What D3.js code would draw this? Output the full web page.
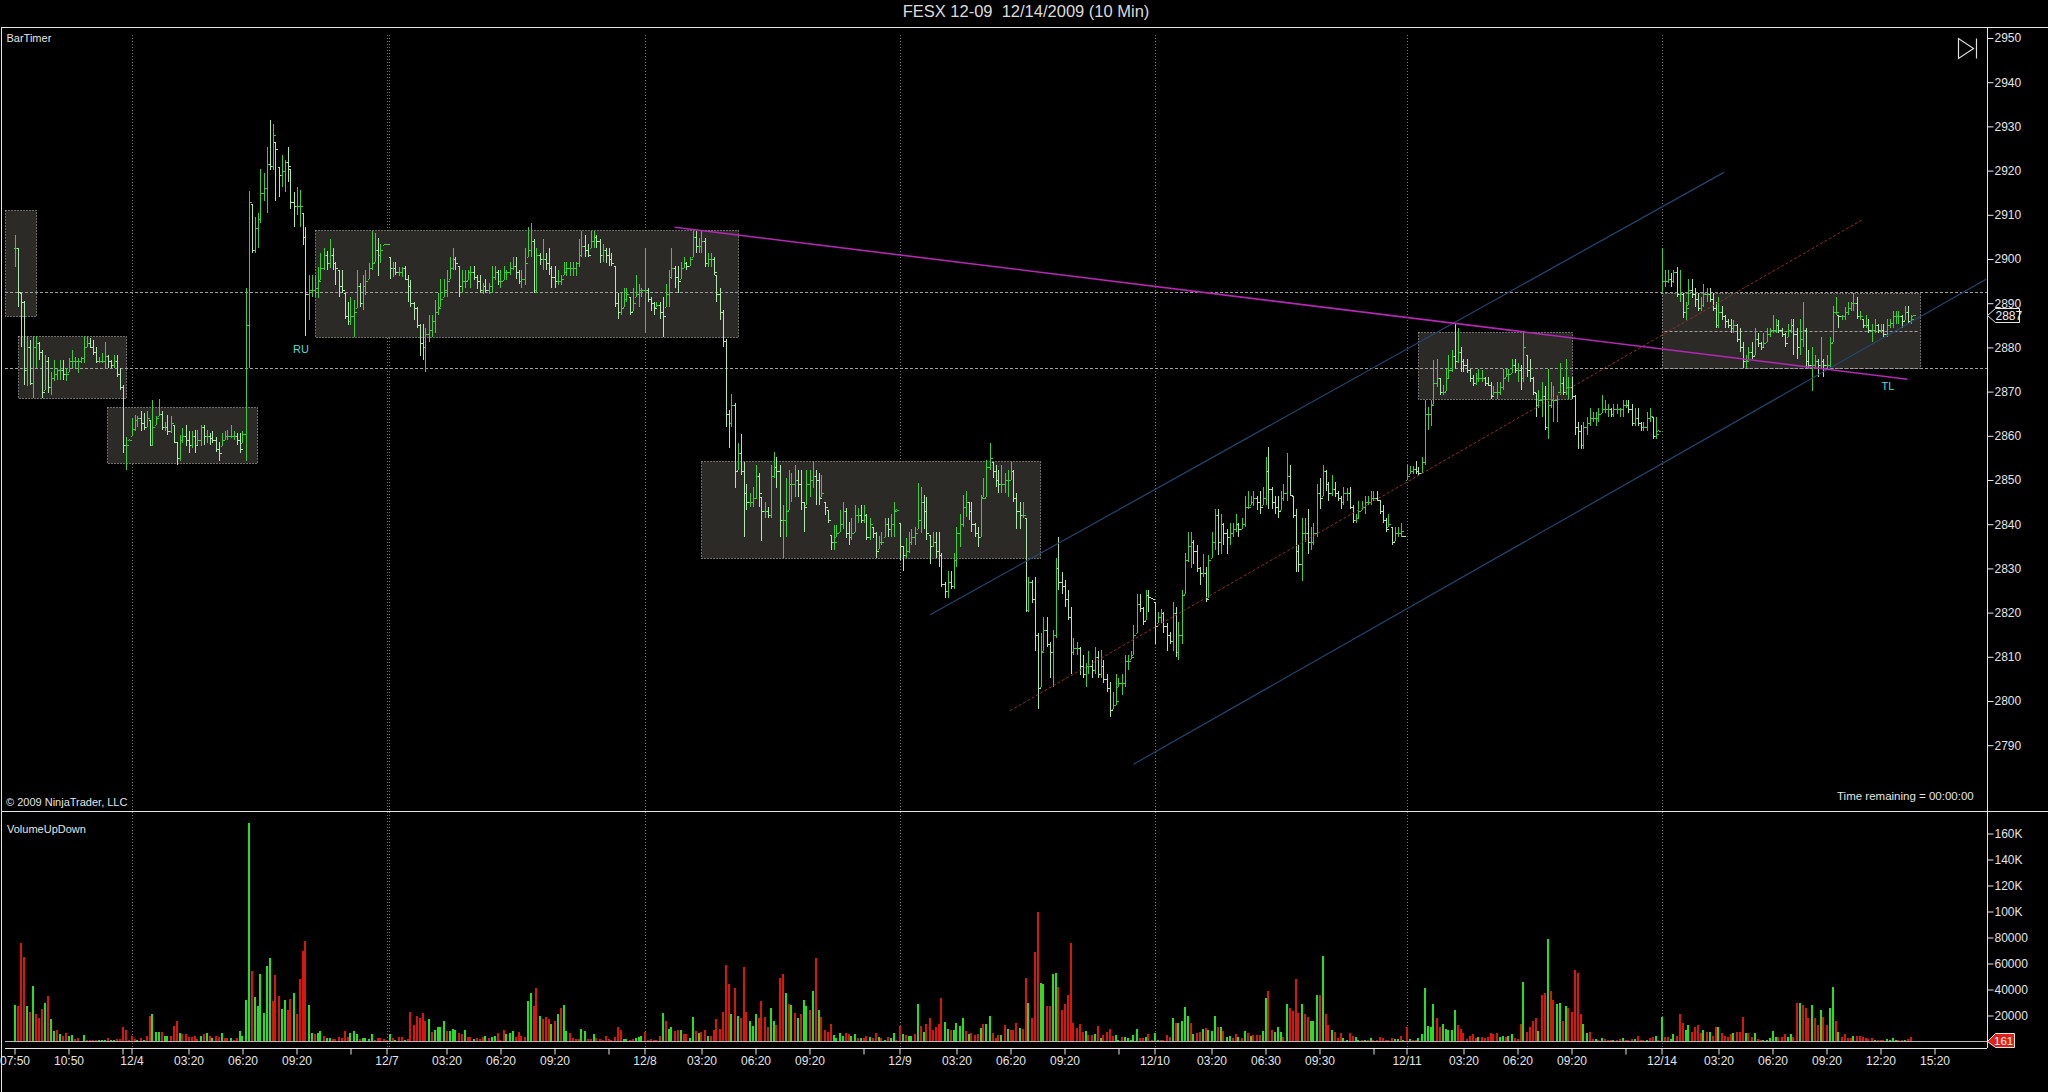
<!DOCTYPE html>
<html>

<head>
    <meta charset="utf-8">
    <style>
        html, body { margin: 0; padding: 0; background: #000; overflow: hidden; }
        svg { display: block; }
        text { font-family: "Liberation Sans", Arial, sans-serif; fill: #e4e4e4; }
        .axis path { stroke: #e8e8e8; }
        .axis line { stroke: #e8e8e8; }
        .axis text { font-size: 12px; fill: #e4e4e4; }
    </style>
</head>

<body>
    <svg id="container" width="2048" height="1092"></svg>
</body>
<script src="https://cdn.jsdelivr.net/npm/d3@7"></script>
<script>
    // one row per 10 minute bar: high, low, close
    const dec3 = [[2905.5,2898.3,2902.5],[2902.5,2889.2,2892.5],[2892.3,2880.2,2890.3],[2890.4,2871.5,2875],[2882.5,2871.2,2880],[2881.7,2871.5,2872],[2882.5,2868.5,2880],[2882.5,2875.3,2881],[2881.3,2877.2,2879],[2879.4,2868.5,2870],[2878.3,2870.4,2877],[2877.9,2869.6,2871],[2874.5,2869.3,2873],[2877.2,2872.3,2874],[2875.3,2872.7,2875],[2877.2,2872.7,2875],[2877.2,2872.7,2874],[2875.3,2872.3,2874],[2877.5,2874.5,2877],[2879.4,2875.3,2877],[2877.9,2875.3,2877],[2877.5,2874.2,2877],[2877.9,2876.4,2877.5],[2882.5,2876.4,2880],[2882.5,2880.2,2881],[2882.1,2879.8,2880],[2881.7,2878.3,2879],[2880.2,2876.4,2877],[2877.9,2876.4,2877],[2878.7,2876.4,2877],[2881.3,2875.3,2878],[2878.3,2875.3,2877],[2877.2,2875.3,2876],[2878.3,2875.3,2877],[2878.3,2873.4,2874],[2875.3,2870.4,2871],[2871.5,2856,2858],[2859.8,2852.3,2858],[2859.3,2859,2859.1]]
    const dec4 = [[2864,2860,2861.5],[2864.7,2861,2863.5],[2864.5,2862,2864],[2865.5,2861,2863],[2865.1,2861.3,2862],[2865.5,2862,2864],[2863.6,2857.6,2858],[2868.1,2857.6,2862],[2864.4,2862.5,2864],[2868.3,2864.4,2865],[2865.5,2861.3,2862],[2863.2,2861,2862],[2864.7,2860.2,2861],[2864.4,2860.6,2863],[2862.5,2858.3,2858.5],[2858.7,2853.4,2855],[2860.2,2854.2,2859],[2861.7,2858.3,2860],[2862.5,2857.6,2859],[2861,2856,2858],[2861,2857.2,2860],[2861.3,2856,2858],[2861.3,2858,2859],[2862.5,2857.6,2862],[2862.5,2858,2860],[2861.3,2858.3,2860],[2860.6,2858,2859.5],[2861,2858.3,2859],[2859.8,2856.4,2857],[2858.7,2854.2,2856],[2860.6,2857.6,2859],[2861,2859,2860],[2861.3,2859.1,2860],[2862.5,2859.5,2860],[2861,2859,2860],[2860.6,2858,2859],[2860.6,2856,2857],[2861,2858.3,2860.5],
        [2893.4,2854.2,2885],[2915.3,2875.3,2913],[2912.4,2901.3,2902],[2909.4,2901.3,2907],[2910.3,2902.4,2909],[2920.4,2908.2,2915],[2919.4,2913.2,2916],[2925.4,2910.3,2921.5],[2931.5,2920.1,2921],[2930.5,2920.1,2928],[2926.4,2913.2,2925],[2920.9,2914.1,2919],[2923.5,2916.4,2920],[2922.4,2915.2,2922],[2925.4,2917.5,2921],[2920.4,2911.2,2913],[2915.2,2907.3,2912],[2916.4,2910,2912],[2915.5,2907.3,2912],[2910.3,2903.2,2905],[2907.3,2882.5,2892],[2896.4,2886.2,2893],[2896.4,2891.5,2893],
        [2896.4,2891.3,2893.5],[2898.3,2891.1,2895],[2901.4,2895.2,2898],[2902.4,2897.4,2901],[2901.7,2897.4,2899],[2904.5,2897.9,2901],[2902.4,2897.5,2899],[2899.4,2894.1,2898],[2897.5,2891.3,2894],[2897.5,2892.2,2893],[2892.2,2886.4,2887],[2890.3,2885.1,2886],[2891.3,2885.1,2887],[2890.7,2882.3,2888],[2897.5,2889,2894],[2894.5,2889.2,2890],[2896.4,2888.5,2894],[2897.5,2891.9,2895],[2899,2895.4,2898],[2906.4,2897.5,2899],[2905.8,2899.4,2902],[2904.7,2896.2,2901],[2903.5,2899.2,2902],[2903.4,2903.2,2903.3]]
    const dec7 = [[2903.4,2903.2,2903.3],[2900.4,2895.4,2898],[2899.4,2896,2898],[2899.4,2896.4,2897],[2898.3,2896.2,2897],[2898.3,2896,2898],[2898.4,2895.2,2895.5],[2896.4,2890.3,2894],[2895.2,2889.2,2890],[2890.3,2886.2,2889],[2889.2,2884.3,2885],[2885.3,2878,2881],[2885.3,2877.1,2880],[2884.3,2874.4,2883],[2887.3,2881.3,2884],[2887.3,2882.3,2886],[2890.7,2883.2,2888],[2892.2,2887.3,2889],[2895.4,2889.2,2891],[2895.4,2891.3,2893],[2897.5,2891.5,2895],[2900.4,2895.4,2898],[2902.4,2897.5,2900],[2900.5,2897.4,2899],[2898.4,2891.3,2894],[2897.5,2892.2,2895],[2897.5,2893.4,2895],[2897.5,2895.2,2897],[2898.4,2893.4,2897],[2898.4,2895.2,2896],[2896.4,2893.1,2895],[2896.4,2892.2,2893],[2894.5,2892.1,2894],[2895.4,2892.2,2893],[2894.5,2892.1,2894],[2898.4,2892.2,2896],[2898.4,2895.2,2897],[2897.4,2894.1,2895],[2897.4,2893.4,2895],[2898.4,2895.2,2897],[2897.4,2895.2,2897],[2899.4,2896.4,2898],[2900.4,2897.4,2898.5],[2900.4,2895.4,2897],[2897.4,2894.3,2895],[2897.5,2893.4,2895.5],[2902.4,2894.1,2899],[2907.3,2900.4,2902],[2908.2,2900.4,2904],[2904.5,2892.2,2893],[2902.4,2892.2,2901],[2901.4,2898.6,2900],[2904.5,2897.5,2900],[2901.3,2897.4,2899],[2902.4,2896.4,2898],[2898.4,2893.4,2896],[2898.4,2893.4,2895],[2897.4,2894.1,2895],[2896.4,2894.1,2895.5],[2899.4,2896.4,2897],[2899.4,2896.2,2898],[2899.4,2896.2,2898],[2899.4,2896.2,2898],[2899.4,2896.2,2899],[2904.5,2898.3,2901],[2906.4,2900.4,2903],[2905.4,2900.4,2902],[2903.5,2900.4,2901],[2906.4,2902.4,2904],[2906.4,2902.4,2905],[2905.4,2902.4,2904],[2904.5,2899.2,2901],[2903.5,2899.4,2902],[2902.4,2899.2,2901],[2902.4,2898.4,2900],[2901.4,2898.4,2899],[2898.4,2889.2,2890],[2892.2,2886.4,2888],[2892.2,2887.3,2889],[2893.4,2889.2,2891],[2893.4,2890.3,2892],[2891.3,2887.3,2888],[2893.4,2888.3,2890],[2896.4,2891.3,2892],[2894.3,2889.2,2893],[2893.4,2891.3,2893]]
    const dec8 = [[2902.4,2883.2,2893],[2893.4,2890.3,2891],[2891.3,2888.3,2890],[2890.3,2887.3,2889],[2890.3,2889.2,2889.5],[2890.3,2886.4,2888],[2891.3,2882.4,2887],[2894.3,2889.2,2892],[2897.5,2889.2,2896],[2902.4,2895.4,2898],[2898.4,2893.4,2896],[2898.4,2892.2,2895],[2899.4,2895.4,2898],[2900.4,2897.9,2899],[2899.4,2897.5,2898.5],[2900.4,2898.4,2900],[2906.4,2900.4,2905],[2906.4,2901.4,2903],[2904.7,2901.3,2903],[2906.4,2901.3,2904],[2904.7,2898.3,2899],[2901.3,2898.3,2900],[2901.3,2898.3,2900],[2900.5,2896.4,2897],[2896.4,2890.3,2892],[2893.4,2886.2,2888],[2888.5,2880.2,2881.5],[2882,2862,2865],[2865.8,2857.2,2863],[2869.4,2862,2867],[2867.5,2848.1,2852],[2858.3,2852.3,2856],[2860.4,2851.1,2852],[2854.1,2837.2,2847],[2849.2,2843.2,2845],[2847,2844,2845],[2848.5,2844,2846],[2853.4,2845.8,2851],[2851.5,2844,2847],[2846.2,2836.3,2843],[2845.1,2841.3,2843],[2844,2841.3,2842],[2853.4,2841.3,2851],[2856.4,2850.4,2853],[2855.3,2848.1,2852],[2853.4,2837.2,2841],[2844.3,2832.3,2841],[2850.4,2837.2,2843],[2852.3,2843.2,2849],[2851.5,2845.1,2849],[2853.4,2846.2,2850],[2852.3,2846.2,2849],[2852.3,2843.2,2845],[2845.1,2838.3,2844],[2852.3,2844.3,2849],[2852.3,2846.2,2850],[2854.4,2848.1,2851],[2852.3,2844.3,2850],[2851.5,2844.3,2846],[2851.1,2846.2,2847],[2845.1,2842.1,2844],[2843.2,2840.2,2841],[2837.5,2834.2,2836],[2839.8,2834.2,2836],[2839.8,2837.2,2838],[2843.2,2838.3,2840],[2845.1,2839,2843],[2843.6,2836.8,2838],[2840.6,2835.3,2837],[2841.3,2836.4,2838],[2844.3,2838.3,2842],[2843.6,2840.2,2842],[2844.3,2840.2,2841],[2844.3,2840.2,2842],[2842.4,2836.4,2837],[2841.3,2836.4,2840],[2839.4,2836.8,2838],[2838.3,2832.3,2834],[2837.3,2834.5,2836],[2838.3,2835.3,2836],[2841.3,2837.2,2840],[2841.3,2837.2,2839],[2842.4,2837.2,2840],[2845.1,2837.2,2843],[2843.4,2843.2,2843.3]]
    const dec9 = [[2840.2,2831.9,2835],[2835,2829.3,2833],[2836.8,2832.3,2834],[2838.3,2833.4,2836],[2839,2835.3,2837],[2839.4,2835.3,2838],[2849.4,2839,2841],[2848.5,2837.9,2845],[2846.6,2839,2843],[2846.2,2836.4,2838],[2837.5,2831.1,2835],[2838.3,2834.9,2836],[2838.3,2832.3,2834],[2838.3,2830.4,2833],[2833.4,2825.8,2826.5],[2827,2823.2,2825],[2829.3,2823.2,2827],[2829.3,2825.3,2826],[2833.4,2825.3,2832],[2839.4,2830.4,2838],[2842.4,2834.9,2840],[2846.6,2839.4,2844],[2847.4,2841.7,2845],[2845.1,2841,2843],[2845.1,2838.3,2840],[2840.2,2837.2,2838],[2839.4,2834.9,2837],[2846.6,2837.2,2846],[2850.4,2846.2,2846],[2854.5,2846.2,2853],[2858.3,2852.3,2855],[2854.1,2850.4,2852],[2853.4,2848.5,2850],[2852.3,2847,2849],[2853.4,2847,2849],[2851.5,2847,2850],[2852.3,2846.2,2850],[2854.1,2850,2852],[2852.3,2845.1,2846],[2847,2839,2843],[2845.1,2839,2842],[2845.1,2841.3,2842],[2841.3,2820.2,2820.6],
        [2828.1,2820.2,2827],[2827.4,2822.1,2823],[2828.1,2811.2,2815],[2815.3,2798.3,2803],[2815.3,2803.2,2811],[2819.1,2811.2,2816],[2819.1,2812.3,2813],[2813.4,2805.1,2811],[2816,2803.2,2815],[2832.3,2814.2,2830],[2837.2,2825.1,2827],[2829.2,2824.3,2826],[2827.4,2821.3,2823],[2825.1,2818.3,2819],[2821.3,2806.2,2811],[2814.2,2810.4,2812],[2813.4,2810.4,2812],[2812.3,2805.9,2808],[2810.4,2805.1,2806],[2808.5,2803.2,2808],[2811.2,2806.2,2808],[2809.3,2805.1,2807],[2812.3,2806.2,2810],[2811.2,2805.1,2806],[2811.5,2805.1,2808],[2809.3,2804,2805],[2806.2,2802.1,2803],[2804.4,2796.3,2798],[2802.1,2798.3,2799],[2806.2,2799.1,2800],[2805.1,2803.2,2804],[2806.2,2801.3,2804],[2810.4,2803.2,2809],[2810.4,2807,2809],[2811.2,2809.6,2810],[2817.2,2810.4,2815],[2824.3,2815.3,2822],[2824.3,2820.2,2821],[2821.3,2817.2,2818],[2825.1,2818.3,2824],[2825.1,2820.2,2823.5],[2823.2,2823,2823.1]]
    const dec10 = [[2822.5,2813,2817],[2820.2,2817.6,2819],[2820.9,2817.6,2820],[2820.2,2815.3,2817],[2817.6,2811.2,2815],[2815.7,2813,2813.5],[2822.5,2811.2,2820],[2821.3,2810,2811],[2817.9,2809.3,2815],[2825.1,2813,2824],[2833.4,2824.3,2832],[2838.3,2831.5,2835],[2838.3,2830.2,2836],[2836.4,2831.1,2834],[2835.3,2829.2,2830],[2830.4,2826.2,2829],[2833.2,2828.1,2829],[2830.4,2822.5,2823],[2833,2823.2,2832],[2838.3,2832.3,2836],[2843.4,2834.1,2842],[2843.4,2833,2836],[2842.3,2833.2,2840],[2840.2,2835.3,2838],[2839,2833.2,2837],[2840.2,2835.3,2838],[2840.2,2837.2,2839],[2842.3,2838.3,2840],[2840.2,2837.2,2839],[2841.3,2839,2840],[2846.4,2839.3,2844],[2847.4,2843.4,2844],[2846.4,2844.3,2845],[2847.4,2844.1,2846],[2846.4,2843.2,2845],[2847.4,2842.3,2844],[2848.5,2844.3,2846],[2855.3,2844.3,2852],[2857.4,2843.4,2848],[2848.5,2843.4,2845],[2846.4,2842.3,2844],[2846.4,2841.3,2843],[2847.4,2843.2,2846],[2849.2,2845.3,2847],[2856.2,2845.3,2851],[2853.4,2846.4,2846.5],[2846.4,2841.3,2842],[2843.4,2829.2,2834],[2835.3,2829.2,2831],[2841.3,2827.2,2838],[2841.3,2836,2838],[2843.4,2833.2,2836],[2839.3,2834.1,2836],[2840.2,2835.3,2838],[2849.2,2837.2,2847],[2850.4,2843.4,2846],[2853.4,2846.4,2852],[2852.3,2847.4,2849],[2849.6,2845.3,2847],[2851.1,2846.4,2848],[2849.6,2846.2,2847],[2847.4,2845.3,2846],[2846.4,2843.4,2845],[2848.5,2844.3,2847],[2848.3,2845.3,2847],[2848.5,2843.4,2844],[2844.3,2840.2,2841],[2842.4,2840.2,2841.5],[2845.3,2841.3,2843],[2845.3,2843.2,2844],[2846.4,2842.3,2845],[2846.4,2844.3,2845],[2847.4,2844.3,2846],[2847.4,2845.3,2846],[2847.4,2845.3,2845.5],[2845.5,2842.3,2843],[2844.3,2840.2,2841],[2841.3,2838.3,2839],[2842.3,2839.3,2840],[2839.3,2835.3,2836],[2839.3,2836.3,2838],[2839.3,2837.2,2838],[2840.2,2837.2,2838.5],[2837.4,2837.2,2837.3]]
    const dec11 = [[2853.4,2850,2851],[2853.1,2851.3,2852],[2853.1,2851.3,2852.5],[2854.3,2851.3,2852],[2853,2851.1,2851.5],[2855.3,2851.5,2854],[2868.1,2853.4,2865],[2866.6,2861.3,2865],[2868.1,2862.2,2867],[2877.1,2867.3,2872],[2877.3,2871.1,2873],[2873,2869.2,2870],[2871.5,2869.2,2870],[2875.2,2870.2,2873],[2878.3,2873,2875],[2879.4,2874.5,2878],[2885.4,2875.2,2877],[2884.3,2876.4,2879],[2880.1,2874.5,2877],[2877.3,2874.5,2876],[2877.3,2874.3,2875],[2875.2,2872.2,2873],[2873.7,2871.2,2872],[2874.3,2871.5,2873],[2875.2,2872.2,2873],[2874.9,2872.2,2873],[2873.2,2871.2,2872],[2873.2,2871.2,2871.5],[2872.2,2868.3,2869],[2871.2,2869.2,2870],[2872.2,2868.3,2870],[2872.2,2869.2,2871],[2875.2,2870.3,2873],[2875.2,2873.2,2874],[2875.2,2872.2,2874],[2877.3,2874.3,2876],[2877.3,2874.3,2875],[2876.4,2872.2,2875],[2876,2870.3,2873],[2883.5,2872.2,2880],[2878.3,2873.2,2875],[2877.3,2872.2,2873],[2873.2,2869.2,2870],[2869.6,2864.3,2867],[2870.3,2866.4,2868],[2872.2,2864.3,2869],[2871.2,2861.3,2862],[2875.2,2859.2,2867],[2872.2,2866.2,2868],[2871.2,2863.2,2868],[2869.2,2863.2,2870],[2876.4,2869.2,2872],[2873.2,2869.2,2870],[2877.3,2869.2,2871],[2873.2,2868.3,2871],[2873.2,2868.3,2869],[2869.2,2860.2,2862],[2863.2,2857.1,2861],[2862.4,2857.1,2858],[2863.2,2857.1,2862],[2864.3,2860.2,2863],[2866.2,2862.2,2864],[2865.4,2863.2,2864],[2865.4,2862.2,2864],[2866.2,2863.2,2865],[2869.2,2865.2,2866],[2868.2,2865.2,2866],[2867.3,2864.3,2866],[2866.2,2864.3,2865],[2867.3,2864.3,2866],[2867.3,2865,2866],[2866.4,2864.3,2866],[2868.2,2864.3,2867],[2868.2,2866.2,2867],[2868.2,2865.2,2866],[2867.3,2862.2,2863],[2866.2,2862.2,2864],[2866.2,2862.2,2863],[2863.2,2861.1,2862],[2863.2,2861.1,2862],[2865.4,2861.1,2864],[2866.2,2863.2,2864.5],[2864.3,2859.2,2860],[2864.3,2859.2,2860.5],[2861.2,2861,2861.1]]
    const dec14 = [[2902.6,2892.4,2895],[2897.5,2893.7,2895],[2897.5,2894.5,2895.5],[2896.8,2893.7,2895],[2897.5,2894.5,2897],[2898.3,2891.3,2892],[2897.5,2890.3,2892],[2892.4,2886.6,2888],[2890.3,2886.2,2889],[2895.4,2889.6,2893],[2895.4,2891.1,2892],[2893.4,2889.2,2891],[2892.4,2888.3,2889],[2891.3,2888.3,2889.5],[2894.3,2889.2,2892],[2893.4,2890.3,2892],[2893.4,2890.3,2891],[2892.4,2888.3,2889],[2890.3,2884.3,2885],[2891.3,2884.3,2888],[2889.4,2886.2,2887],[2887.3,2884.3,2886],[2886.4,2884.3,2885],[2886.4,2883.3,2884.5],[2886.2,2883.2,2885],[2885.3,2881.3,2882],[2884.3,2879,2880],[2881.3,2875.3,2877],[2878.3,2875.3,2877],[2880.2,2877.2,2879],[2881.3,2877.3,2878],[2884.3,2878.3,2882],[2883.2,2880.2,2881],[2881.3,2879.3,2880],[2883.2,2880.2,2881],[2884.3,2881.3,2883],[2884.3,2882.3,2884],[2887.3,2883.3,2884],[2886.4,2883.3,2885],[2886.2,2883.2,2884],[2884.3,2882.3,2883],[2883.3,2880.2,2881],[2885.3,2882.3,2884],[2886.4,2883.3,2885],[2886.4,2878.3,2883],[2884.3,2877.3,2880],[2886.4,2878.3,2882],[2890.3,2880.2,2884],[2884.3,2875.3,2877],[2879.3,2875.3,2876],[2880.2,2870.2,2876],[2878.3,2875.3,2877],[2877.3,2873.2,2876],[2882.3,2875.3,2877],[2877.3,2873.2,2876],[2878.3,2875.3,2876],[2882.3,2875.3,2881],[2889.4,2881.3,2888],[2891.3,2887.3,2888],[2887.3,2884.3,2887],[2887.3,2886.2,2887],[2889.2,2886.2,2888],[2890.3,2887.3,2889],[2890.3,2888.3,2890],[2892.4,2888.3,2890],[2891.3,2886.4,2887],[2888.3,2886.2,2887],[2886.4,2884.3,2885],[2887.3,2884.3,2885],[2886.4,2883.3,2884],[2885.3,2881.3,2884],[2886.4,2883.3,2885],[2885.3,2883.3,2884],[2885.3,2883.3,2884],[2885.3,2882.3,2883],[2886.4,2882.3,2885],[2886.4,2884.3,2885.5],[2888.3,2884.3,2887],[2888.3,2885.3,2887],[2888.3,2885.3,2887],[2887.3,2884.3,2886],[2889.4,2886.2,2888],[2889.4,2885.3,2886],[2887.3,2885.3,2886.5],[2887.4,2887.2,2887.3]]

    // volume per bar in thousands, negative means a down bar
    const vol3 = [27.7,-27,-76,-65,27,-23,43,-21,-18,-25,29.5,-35,17,7.7,-9,6,-4.4,-6.7,4.6,5,-2.3,-3,-.5,5,-1.5,-1.5,-1,-1.5,1.3,.8,.8,-3,.8,.8,-2.3,-2.3,-10.8,-9.2,-.8]
    const vol4 = [-4.6,-2.3,1.5,-2.8,1.3,-4.4,-20,21.3,7,7,-7,4.4,4.4,-4.4,-12.3,-16,6.7,-5.6,-5.4,-3.8,-3.8,-4.6,-2.3,4.6,-5.4,6.2,-4.6,3,-4.6,-3.8,6.2,-2.8,-2.8,3,-1.5,-3,7.7,4.6,32,168,-54,34.6,27,52,22,58,64.6,-31,-51.5,-35,25,32,-24.6,-33,37,-21,-47.7,-70,-77,27.7,6.2,-5.4,6.2,7.7,-4.6,3,3,-2.3,-2.3,-3.6,-3,-7.7,-3.8,6.2,7.7,5.4,-2.3,3,3,2.3,5.4,-1.5,-3,-3,-2.3]
    const vol7 = [-1.5,5.4,-3,1.5,-3.8,-3.8,1.5,-2.3,-23,-13,-20,-17.7,-22.3,-15.4,17,-7,8.5,10.8,10.8,15.4,-7.7,7.7,10,8.5,-6.2,-5.4,8.5,-3.8,-3.8,2.3,-3,-2.3,-3.8,4.6,-3,3.8,4.6,-6.2,-1.5,-8.5,5.4,6.2,7.7,-3.8,-7,-4.6,-3.8,31.5,37,-27,-41.5,20,-17,-19.2,-17,13.8,-16,21.5,-26,27.7,7.7,-6.2,-3,-2.3,-2.3,10,7.7,-2.3,-2.3,5.4,-3,-2.3,-.8,-4.6,-2.3,-1.5,-3.8,-11.5,-8.5,2.3,2.3,-1.5,-2.3,3,3.8,4.6]
    const vol8 = [-7,-1.5,-2.3,-1.5,-1.5,-4.6,22.3,-15.4,10,11.5,-7.7,-9.2,8.5,-5.4,-5.4,3,18.5,-7.7,6.2,-7,-8.5,4.6,-4.6,-8.5,-17,-10,-23,-59,-44.6,21.5,-40.8,20,-17.7,-57,-23,16,12.3,20.8,-17.7,-30.8,-18.5,-11.5,25.4,15.4,-13,-49,-52,37,-28.5,27.7,-22.3,17.7,-21.5,32,27,-24.6,38.5,-64,24.6,-18.5,-8.5,-7,-13.3,4.9,2.6,6.4,4.1,-6.4,-5.6,4.1,5.6,-2.6,2.6,-2.6,-4.1,3.3,-2.6,-6.4,3.3,-2.6,1,-3.3,2.6,6.4,-.8]
    const vol9 = [-11.8,5.6,-4.9,4.1,4.1,-5.6,28.7,-11.8,7.2,-13.3,-18,-8.7,-11,-13.3,-33.8,14.9,9.5,-8.7,8.7,14,11.8,18,-8,5.6,-6.4,-4.9,-5.6,10.3,-13.3,13.3,20,-6.4,-2.6,-4.9,4.9,-12.6,9.5,-8.7,-8.7,-14,10.3,-9.5,-48.7,30,-18,-68.7,-99.5,44.9,44,-27,-27,51.8,53,-41.8,-24,-28.7,-35.6,-75.6,-14,-10.3,-13.3,-7.2,8,-4.9,-4.9,5.6,-11.8,2.6,-4.9,-7.2,-9.5,-4.1,4.9,1.5,-3.3,3.3,2.6,1.5,4.9,9.5,-2.6,-2.6,3.3,-5.6,-.8]
    const vol10 = [6.4,1,-1.5,-1.5,-4.9,-3.3,18,-14,14,15.6,26.4,19.5,-14,5.6,-6.4,-7.2,9.5,-10.3,8.7,8,20,-11,11,-8,3.3,4.1,-2.6,-5.6,3.3,-2.6,8,-6.4,4.1,-4.9,-4.9,-4.9,8,33.3,-38.7,-8.5,7,10.8,7,-3.8,28.5,-26,-23.8,-47.7,-22.3,28.5,-20.8,-19.2,16,15.4,36,-36,66,-20.8,-13,9.2,-7,-3,-6.2,3,1.5,-6.2,-4.6,3.8,1.5,-1.5,1.5,-.8,3,-.8,-.8,-3.8,-3,-1.5,-1.5,-3,2.3,2.3,-4.6,.8]
    const vol11 = [-10.8,2.3,-1.5,-.8,3,5.4,41.5,12.3,11.5,28.5,-17.7,-11.5,13.8,10,8.5,9.2,24.6,-13,-10,-6.2,-2.3,-4.6,-5.4,-3,3.8,-3.8,-3,-3.8,-6.2,-5.4,-6.2,3.8,4.6,-3.8,4.6,5.4,-3,-2.3,-13.8,45.4,-7,-10.8,-16,-17.7,7.7,-35.4,-37,79,-38.5,-32,29,30,-16,27,-26,-23,-55,-53,-20.8,13.8,6.2,-7,-2.3,2.3,-1.5,3,-2.3,-1.5,-.8,1.5,-1.5,-2.3,3,-1.5,-1.5,-2.3,2.3,-4.6,-1.5,-1.5,.8,-3,-3.8,4.6,-.8]
    const vol14 = [18.5,-3.8,-3.8,2,5.4,-4.6,-20.8,-14.6,9.2,13,-7,-11.5,-13,-6.2,8.5,-7,7,-4.6,-11.5,11.5,-6.2,-4.6,-3.8,-5.4,6.2,-7,-7,-19.2,6.2,-6.2,-3.8,6.2,-2.3,-1.5,.8,1.5,3,7.7,3.8,-3.8,-3.8,-5.4,3.8,5.4,-3.8,-30,30,-27.7,-25.4,-17.7,27.7,-17.7,-13,24.6,-18.5,-13,25.4,42.3,-16,7,-3.8,-5.4,-3,-3,4.6,-4.6,-4.6,-3.8,-3,-2.3,-3,1.5,-.8,-.8,-.8,2.3,1.5,3,.8,-.8,-1.5,1.5,-2.3,-3.8]

    // index of the bar under each tick of the time axis, "" means tick without label
    const timeTicks = [0,18,36,39,58,76,94,112,124,144,162,180,198,210,229,247,265,283,295,314,332,350,368,380,399,417,435,453,464,483,501,519,537,549,568,586,604,622,640]
    const timeLabels = ["07:50","10:50","","12/4","03:20","06:20","09:20","","12/7","03:20","06:20","09:20","","12/8","03:20","06:20","09:20","","12/9","03:20","06:20","09:20","","12/10","03:20","06:30","09:30","","12/11","03:20","06:20","09:20","","12/14","03:20","06:20","09:20","12:20","15:20"]
    const priceTicks = [2790,2800,2810,2820,2830,2840,2850,2860,2870,2880,2890,2900,2910,2920,2930,2940,2950]
    const volumeTicks = [20,40,60,80,100,120,140,160]
    const sessionStarts = [39,124,124.8,210,295,380,464,549]

    // congestion boxes: first bar, last bar, top price, bottom price
    const boxes = [[-3.2,7,2911,2887],[1,37.1,2882.6,2868.5],[30.9,81,2866.6,2854],[100,241,2906.6,2882.3],[229,342,2854.4,2832.4],[467.8,519,2883.5,2868.3],[549,635,2892.4,2875.4]]
    const levels = [2892.6,2875.3]
    const boxMedian = [[550,635,2883.8]]

    // drawn lines: start bar, start price, end bar, end price
    const resistance = [[220,2907.2,631,2872.8]]
    const channelMid = [[331.8,2797.8,616,2908.9]]
    const channelEdges = [[305.2,2819.5,569.8,2919.6],[373,2785.7,657.2,2895.4]]

    let svg = d3.select("#container")
    let bars = [].concat(dec3, dec4, dec7, dec8, dec9, dec10, dec11, dec14)
    let volumes = [].concat(vol3, vol4, vol7, vol8, vol9, vol10, vol11, vol14)

    let x = d3.scaleLinear().domain([0, 640]).range([14.5, 1934.5])
    let y = d3.scaleLinear().domain([2790, 2950]).range([745.2, 38])
    let yVol = d3.scaleLinear().domain([0, 160]).range([1041.5, 833.5])

    function drawFrame() {
        let frame = svg.append("g").attr("stroke", "#e6e6e6").attr("shape-rendering", "crispEdges")
        frame.append("line").attr("x1", 1).attr("x2", 2048).attr("y1", 27.5).attr("y2", 27.5)
        frame.append("line").attr("x1", 1).attr("x2", 2048).attr("y1", 811.5).attr("y2", 811.5)
        frame.append("line").attr("x1", 1.5).attr("x2", 1.5).attr("y1", 27).attr("y2", 1092)
        frame.append("line").attr("x1", 1987.5).attr("x2", 1987.5).attr("y1", 27).attr("y2", 1048)
        frame.append("line").attr("x1", 5).attr("x2", 1987).attr("y1", 1041.5).attr("y2", 1041.5).attr("stroke", "#b8b8b8")
    }

    function drawGrid() {
        svg.append("g")
            .selectAll("line")
            .data(sessionStarts)
            .enter()
            .append("line")
            .attr("x1", d => Math.round(x(d)) + 0.5)
            .attr("x2", d => Math.round(x(d)) + 0.5)
            .attr("y1", 35)
            .attr("y2", 1048)
            .attr("stroke", "#777")
            .attr("stroke-dasharray", "1,2")
    }

    function drawBoxes() {
        svg.append("g")
            .selectAll("rect")
            .data(boxes)
            .enter()
            .append("rect")
            .attr("x", d => Math.round(x(d[0])) + 0.5)
            .attr("y", d => Math.round(y(d[2])) + 0.5)
            .attr("width", d => Math.round(x(d[1]) - x(d[0])))
            .attr("height", d => Math.round(y(d[3]) - y(d[2])))
            .attr("fill", "#2b2a26")
            .attr("stroke", "#c8c8c8")
            .attr("stroke-dasharray", "1,2")

        svg.append("g")
            .selectAll("line")
            .data(levels)
            .enter()
            .append("line")
            .attr("x1", 5)
            .attr("x2", 1987)
            .attr("y1", d => Math.round(y(d)) + 0.5)
            .attr("y2", d => Math.round(y(d)) + 0.5)
            .attr("stroke", "#a0a0a0")
            .attr("stroke-dasharray", "3,2")

        svg.append("g")
            .selectAll("line")
            .data(boxMedian)
            .enter()
            .append("line")
            .attr("x1", d => x(d[0]))
            .attr("x2", d => x(d[1]))
            .attr("y1", d => Math.round(y(d[2])) + 0.5)
            .attr("y2", d => Math.round(y(d[2])) + 0.5)
            .attr("stroke", "#a0a0a0")
            .attr("stroke-dasharray", "3,2")
    }

    function barColor(d, i) {
        let prev = i > 0 ? bars[i - 1][2] : d[2]
        return d[2] >= prev ? "#3ccc3c" : "#aee6ae"
    }

    function drawBars() {
        let groups = svg.append("g")
            .attr("shape-rendering", "crispEdges")
            .selectAll("g")
            .data(bars)
            .enter()
            .append("g")
            .attr("stroke", barColor)

        groups.append("line")
            .attr("x1", (d, i) => Math.round(x(i)) + 0.5)
            .attr("x2", (d, i) => Math.round(x(i)) + 0.5)
            .attr("y1", d => y(d[0]))
            .attr("y2", d => y(d[1]))

        // close tick to the right of the bar
        groups.append("line")
            .attr("x1", (d, i) => Math.round(x(i)) + 1)
            .attr("x2", (d, i) => Math.round(x(i)) + 3)
            .attr("y1", d => Math.round(y(d[2])) + 0.5)
            .attr("y2", d => Math.round(y(d[2])) + 0.5)

        // open tick to the left, the open sits at the previous close
        groups.append("line")
            .attr("x1", (d, i) => Math.round(x(i)) - 1)
            .attr("x2", (d, i) => Math.round(x(i)))
            .attr("y1", (d, i) => Math.round(y(Math.min(d[0], Math.max(d[1], i > 0 ? bars[i - 1][2] : d[2])))) + 0.5)
            .attr("y2", (d, i) => Math.round(y(Math.min(d[0], Math.max(d[1], i > 0 ? bars[i - 1][2] : d[2])))) + 0.5)
    }

    function drawTrendLines() {
        let add = (rows, color, width, dash) => svg.append("g")
            .selectAll("line")
            .data(rows)
            .enter()
            .append("line")
            .attr("x1", d => x(d[0]))
            .attr("y1", d => y(d[1]))
            .attr("x2", d => x(d[2]))
            .attr("y2", d => y(d[3]))
            .attr("stroke", color)
            .attr("stroke-width", width)
            .attr("stroke-dasharray", dash)

        add(channelEdges, "#24476f", 1.2, null)
        add(channelMid, "#8a3228", 1, "3,2")
        add(resistance, "#b428b4", 1.6, null)
    }

    function drawVolume() {
        svg.append("g")
            .attr("shape-rendering", "crispEdges")
            .selectAll("rect")
            .data(volumes)
            .enter()
            .append("rect")
            .attr("x", (d, i) => Math.round(x(i)) - 1)
            .attr("width", 2)
            .attr("y", d => yVol(Math.abs(d)))
            .attr("height", d => yVol(0) - yVol(Math.abs(d)))
            .attr("fill", d => d > 0 ? "#22e022" : "#d8160e")
    }

    function drawAxes() {
        let priceAxis = d3.axisRight(y).tickValues(priceTicks).tickSize(6).tickPadding(1).tickFormat(d3.format("d"))
        svg.append("g").attr("class", "axis").attr("transform", "translate(1987.5,0)").call(priceAxis)
            .call(g => g.select(".domain").remove())

        let volumeAxis = d3.axisRight(yVol).tickValues(volumeTicks).tickSize(6).tickPadding(1)
            .tickFormat(d => d >= 100 ? d + "K" : d + "000")
        svg.append("g").attr("class", "axis").attr("transform", "translate(1987.5,0)").call(volumeAxis)
            .call(g => g.select(".domain").remove())

        let timeAxis = d3.axisBottom(x).tickValues(timeTicks).tickSize(6).tickPadding(2)
            .tickFormat((d, i) => timeLabels[i])
        svg.append("g").attr("class", "axis").attr("transform", "translate(0,1048.5)").call(timeAxis)
            .call(g => g.select(".domain").attr("d", "M5,0H1987"))
    }

    function addText(label, px, py, size, fill, anchor) {
        svg.append("text")
            .attr("x", px)
            .attr("y", py)
            .attr("font-size", size)
            .attr("text-anchor", anchor || "start")
            .style("fill", fill || "#e4e4e4")
            .text(label)
    }

    function drawLabels() {
        addText("FESX 12-09\u00a0\u00a012/14/2009 (10 Min)", 1026, 17, 16.5, "#dcdcdc", "middle")
        addText("BarTimer", 6.5, 42, 11)
        addText("VolumeUpDown", 7, 833, 11)
        addText("© 2009 NinjaTrader, LLC", 6, 806, 11)
        addText("Time remaining = 00:00:00", 1837, 800, 11.5)
        addText("RU", 301, 353, 11, "#48dcdc", "middle")
        addText("TL", 1888, 390, 11, "#48dcdc", "middle")

        // last price marker
        svg.append("path")
            .attr("d", "M1987.5,315.5L1995.5,308.5H2019.5V322.5H1995.5Z")
            .attr("fill", "#000")
            .attr("stroke", "#e6e6e6")
        addText("2887", 1995.5, 320, 12, "#f0f0f0")

        // last volume marker
        svg.append("path")
            .attr("d", "M1987.5,1041.5L1995.5,1033.5H2014.5V1047.5H1995.5Z")
            .attr("fill", "#e02018")
            .attr("stroke", "#e6e6e6")
        addText("161", 1994, 1045, 11.5, "#fff")

        // skip-to-end button in the corner
        svg.append("path")
            .attr("d", "M1958.5,38.5V58.5L1973.5,48.5Z M1976.5,38.5V58.5")
            .attr("fill", "none")
            .attr("stroke", "#e0e0e0")
            .attr("stroke-width", 1.2)
    }

    drawGrid()
    drawBoxes()
    drawVolume()
    drawBars()
    drawTrendLines()
    drawFrame()
    drawAxes()
    drawLabels()
</script>

</html>
